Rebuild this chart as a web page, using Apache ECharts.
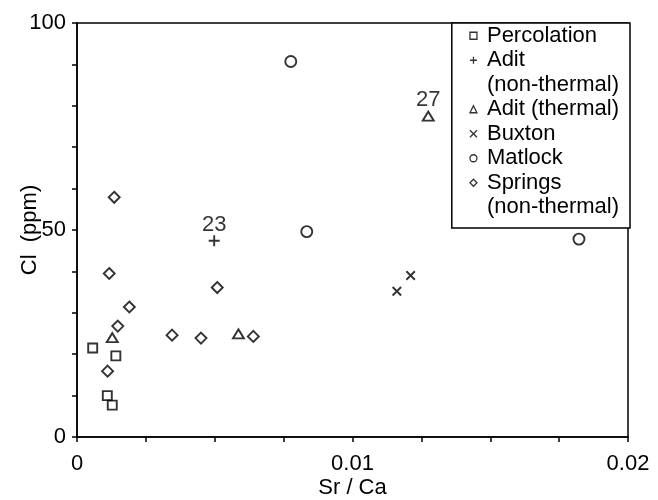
<!DOCTYPE html>
<html>
<head>
<meta charset="utf-8">
<script src="https://cdn.jsdelivr.net/npm/echarts@6/dist/echarts.min.js"></script>
<style>
  html, body { margin: 0; padding: 0; background: #fff; }
  #chart { width: 658px; height: 500px; }
</style>
</head>
<body>
<div id="chart"></div>
<script>
// values
const percolationX = [0.00057, 0.00141, 0.0011, 0.00128]
const percolationY = [21.5, 19.6, 10.0, 7.7]

const aditColdX = [0.00498]
const aditColdY = [47.4]
const aditColdLabels = ['23']

const aditHotX = [0.00128, 0.00586, 0.01275]
const aditHotY = [24.0, 24.9, 77.5]
const aditHotLabels = ['', '', '27']

const buxtonX = [0.01161, 0.01211]
const buxtonY = [35.2, 39.0]

const matlockX = [0.00776, 0.00834, 0.01822]
const matlockY = [90.7, 49.6, 47.8]

const springsX = [0.00135, 0.00117, 0.0019, 0.00148, 0.00111, 0.00345, 0.0045, 0.00509, 0.0064]
const springsY = [57.9, 39.5, 31.4, 26.8, 15.9, 24.6, 23.9, 36.1, 24.3]

const xLabelValues = [0, 0.01, 0.02]
const yLabelValues = [0, 50, 100]

// legend rows: series name -> text shown (two names continue the row above)
const legendNames = ['Percolation', 'Adit (non-thermal)', 'Adit cont', 'Adit (thermal)',
  'Buxton', 'Matlock', 'Springs (non-thermal)', 'Springs cont']
const legendText = ['Percolation', 'Adit', '(non-thermal)', 'Adit (thermal)',
  'Buxton', 'Matlock', 'Springs', '(non-thermal)']

const FONT = 'Liberation Sans, Arial, sans-serif'
const FS = 22
const PLUS = 'path://M0,5L10,5M5,0L5,10'
const CROSS = 'path://M0,0L10,10M10,0L0,10'

function pairs(xs, ys) {
  return xs.map((x, i) => [x, ys[i]])
}

function hollow(name, symbol, size, xs, ys, labels, labelGap) {
  const s = {
    name: name,
    type: 'scatter',
    symbol: symbol,
    symbolSize: size,
    data: pairs(xs, ys),
    itemStyle: { color: 'rgba(0,0,0,0)', borderColor: '#000', borderWidth: 1.9 },
    emphasis: { disabled: true },
  }
  if (labels) {
    s.label = {
      show: true,
      position: 'top',
      distance: labelGap,
      color: '#000',
      fontFamily: FONT,
      fontSize: FS,
      formatter: (p) => labels[p.dataIndex],
    }
  }
  return s
}

function isLabelled(v, list) {
  return list.some((t) => Math.abs(v - t) < 1e-9)
}

const chart = echarts.init(document.getElementById('chart'))
chart.setOption({
  animation: false,
  backgroundColor: '#fff',
  grid: {
    left: 77, right: 30, top: 23, bottom: 63,
    outerBoundsMode: 'none',
    show: true, borderColor: '#000', borderWidth: 1.5,
  },
  xAxis: {
    type: 'value',
    min: 0, max: 0.02, interval: 0.0025,
    name: 'Sr / Ca',
    nameLocation: 'middle',
    nameGap: 40,
    nameMoveOverlap: false,
    nameTextStyle: { color: '#000', fontFamily: FONT, fontSize: FS },
    splitLine: { show: false },
    axisLine: { lineStyle: { color: '#000', width: 1.5 } },
    axisTick: { length: 5, lineStyle: { color: '#000', width: 1.5 } },
    axisLabel: {
      color: '#000', fontFamily: FONT, fontSize: FS, margin: 16,
      formatter: (v) => (isLabelled(v, xLabelValues) ? String(+v.toFixed(4)) : ''),
    },
  },
  yAxis: {
    type: 'value',
    min: 0, max: 100, interval: 10,
    name: 'Cl  (ppm)',
    nameLocation: 'middle',
    nameGap: 36,
    nameMoveOverlap: false,
    nameTextStyle: { color: '#000', fontFamily: FONT, fontSize: FS },
    splitLine: { show: false },
    axisLine: { lineStyle: { color: '#000', width: 1.5 } },
    axisTick: { length: 5, lineStyle: { color: '#000', width: 1.5 } },
    axisLabel: {
      color: '#000', fontFamily: FONT, fontSize: FS, margin: 11,
      formatter: (v) => (isLabelled(v, yLabelValues) ? String(v) : ''),
    },
  },
  legend: {
    orient: 'vertical',
    right: 28,
    top: 23,
    padding: [0.5, 11, 8.5, 17.5],
    itemWidth: 7,
    itemHeight: 7,
    itemGap: 0,
    selectedMode: false,
    borderColor: '#000',
    borderWidth: 1.5,
    backgroundColor: '#fff',
    itemStyle: { borderWidth: 1.3 },
    textStyle: {
      color: '#000', fontFamily: FONT, fontSize: FS, lineHeight: 24.5,
      rich: { g: { width: 5 } },
    },
    formatter: (name) => '{g| }' + legendText[legendNames.indexOf(name)],
    data: legendNames.map((n) => (n.indexOf(' cont') > 0 ? { name: n, icon: 'none' } : { name: n })),
  },
  series: [
    hollow('Percolation', 'rect', 9, percolationX, percolationY),
    hollow('Adit (non-thermal)', PLUS, 11, aditColdX, aditColdY, aditColdLabels, -2),
    { name: 'Adit cont', type: 'scatter', symbol: 'none', data: [] },
    hollow('Adit (thermal)', 'triangle', [11, 9], aditHotX, aditHotY, aditHotLabels, -0.5),
    hollow('Buxton', CROSS, 8.5, buxtonX, buxtonY),
    hollow('Matlock', 'circle', 11, matlockX, matlockY),
    hollow('Springs (non-thermal)', 'diamond', 11, springsX, springsY),
    { name: 'Springs cont', type: 'scatter', symbol: 'none', data: [] },
  ],
})
</script>
</body>
</html>
